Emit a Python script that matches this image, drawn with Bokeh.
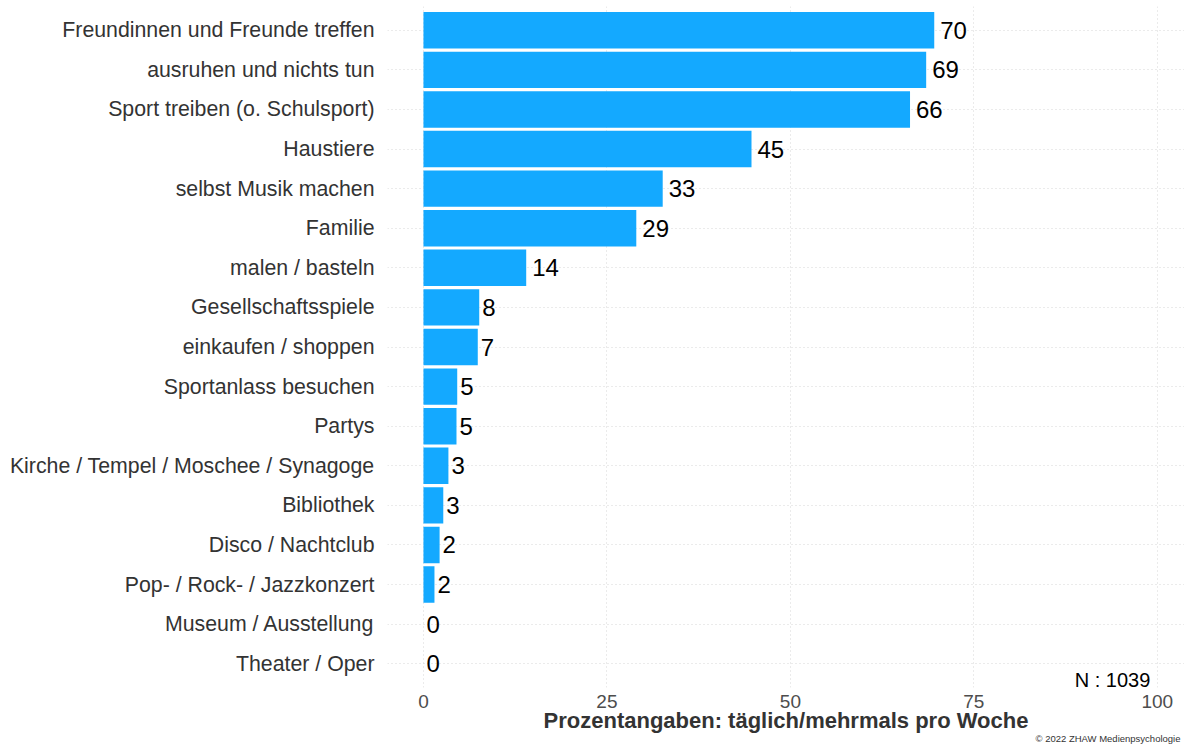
from bokeh.plotting import figure
from bokeh.models import ColumnDataSource, FactorRange, Range1d, FixedTicker, Label, Title
from bokeh.core.properties import value
from bokeh.embed import file_html
from bokeh.resources import INLINE

categories = [
    "Freundinnen und Freunde treffen",
    "ausruhen und nichts tun",
    "Sport treiben (o. Schulsport)",
    "Haustiere",
    "selbst Musik machen",
    "Familie",
    "malen / basteln",
    "Gesellschaftsspiele",
    "einkaufen / shoppen",
    "Sportanlass besuchen",
    "Partys",
    "Kirche / Tempel / Moschee / Synagoge",
    "Bibliothek",
    "Disco / Nachtclub",
    "Pop- / Rock- / Jazzkonzert",
    "Museum / Ausstellung",
    "Theater / Oper",
]
values = [69.6, 68.5, 66.3, 44.7, 32.6, 29.0, 14.0, 7.6, 7.4, 4.6, 4.5, 3.4, 2.7, 2.2, 1.5, 0.0, 0.0]
value_labels = ["70", "69", "66", "45", "33", "29", "14", "8", "7", "5", "5", "3", "3", "2", "2", "0", "0"]
x_ticks = [0, 25, 50, 75, 100]
x_title = "Prozentangaben: täglich/mehrmals pro Woche"
n_note = "N : 1039"
copyright_note = "© 2022 ZHAW Medienpsychologie"

FONT = "Liberation Sans"

src = ColumnDataSource(dict(
    cat=categories,
    val=values,
    lab=value_labels,
    off=[6 if len(s) > 1 else 3 for s in value_labels],
))

p = figure(
    width=1184, height=749,
    y_range=FactorRange(factors=list(reversed(categories)), range_padding=0.1,
                        range_padding_units="absolute"),
    x_range=Range1d(-4.9, 103.7),
    output_backend="svg", toolbar_location=None,
    min_border_left=387, min_border_right=0, min_border_top=6, min_border_bottom=62,
)
p.outline_line_color = None
p.background_fill_color = "white"
p.border_fill_color = "white"

p.hbar(y="cat", right="val", left=0, height=0.92, source=src,
       fill_color="#14a9ff", line_color=None)
p.text(x="val", y="cat", text="lab", source=src, x_offset="off",
       text_font=value(FONT), text_font_size="24px", text_color="black",
       text_align="left", text_baseline="middle")

# grids
p.xgrid.ticker = FixedTicker(ticks=x_ticks)
for g in (p.xgrid, p.ygrid):
    g.grid_line_color = "#d6d6d6"
    g.grid_line_dash = "1 3"
    g.grid_line_width = 1

# axes
p.xaxis.ticker = FixedTicker(ticks=x_ticks)
p.xaxis.axis_line_color = None
p.xaxis.major_tick_line_color = None
p.xaxis.minor_tick_line_color = None
p.xaxis.major_label_text_font = FONT
p.xaxis.major_label_text_font_size = "19px"
p.xaxis.major_label_text_color = "#4d4d4d"
p.xaxis.major_label_standoff = 1
p.xaxis.axis_label = x_title
p.xaxis.axis_label_text_font = FONT
p.xaxis.axis_label_text_font_size = "22px"
p.xaxis.axis_label_text_font_style = "bold"
p.xaxis.axis_label_text_color = "#333333"
p.xaxis.axis_label_standoff = -3

p.yaxis.axis_line_color = None
p.yaxis.major_tick_line_color = None
p.yaxis.minor_tick_line_color = None
p.yaxis.major_label_text_font = FONT
p.yaxis.major_label_text_font_size = "21.3px"
p.yaxis.major_label_text_color = "#333333"
p.yaxis.major_label_standoff = 7

p.add_layout(Label(x=725, y=8, x_units="screen", y_units="screen", text=n_note,
                   text_font=FONT, text_font_size="20px", text_color="black",
                   text_align="center", text_baseline="middle"))
p.add_layout(Title(text=copyright_note, align="right", text_font=FONT,
                   text_font_size="9.5px", text_font_style="normal",
                   text_color="#333333", standoff=-16, offset=4), "below")

open("out.html", "w").write(file_html(p, INLINE))
